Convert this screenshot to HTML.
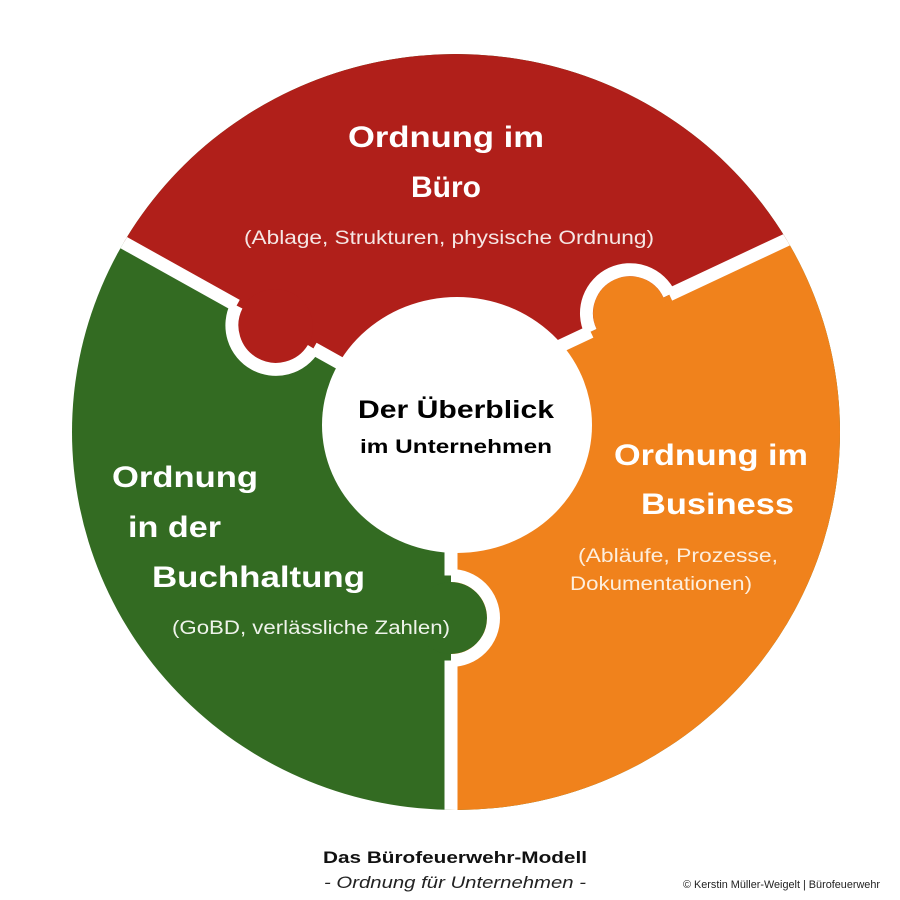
<!DOCTYPE html>
<html><head><meta charset="utf-8"><style>
html,body{margin:0;padding:0;background:#fff;}
svg{display:block;font-family:"Liberation Sans",sans-serif;}
</style></head><body>
<svg width="900" height="900" viewBox="0 0 900 900" xmlns="http://www.w3.org/2000/svg">
<defs><clipPath id="c"><ellipse cx="456" cy="432" rx="384" ry="378"/></clipPath></defs>
<rect width="900" height="900" fill="#fff"/>
<g clip-path="url(#c)">
  <rect width="900" height="900" fill="#336b22"/>
  <polygon points="-10,168 456,428 456,395 910,182 910,-10 -10,-10" fill="#b01f1a"/>
  <polygon points="456,395 910,182 910,910 451,910 451,428" fill="#f0821c"/>
  <circle cx="275" cy="327" r="38" fill="#b01f1a"/>
  <circle cx="630" cy="313.2" r="37" fill="#f0821c"/>
  <circle cx="451" cy="618" r="36" fill="#336b22"/>
  <g stroke="#fff" stroke-width="13" fill="none">
    <line x1="-10" y1="168" x2="236.6" y2="305.6"/>
    <line x1="313.4" y1="348.4" x2="456" y2="428"/>
    <path d="M236.6,305.6 A44,44 0 0 0 313.4,348.4"/>
    <line x1="456" y1="395" x2="590.6" y2="331.7"/>
    <line x1="669.4" y1="294.7" x2="910" y2="182"/>
    <path d="M590.6,331.7 A43.5,43.5 0 0 1 669.4,294.7"/>
    <line x1="451" y1="420" x2="451" y2="575.5"/>
    <line x1="451" y1="660.5" x2="451" y2="910"/>
    <path d="M451,575.5 A42.5,42.5 0 0 1 451,660.5"/>
  </g>
</g>
<ellipse cx="457" cy="425" rx="135" ry="128" fill="#fff"/>

<g fill="#fff" font-weight="bold" font-size="30" text-anchor="middle">
  <text x="446" y="147" textLength="196" lengthAdjust="spacingAndGlyphs">Ordnung im</text>
  <text x="446" y="197">Büro</text>
</g>
<text x="449" y="244" fill="#f5e6e4" font-size="19" text-anchor="middle" textLength="410" lengthAdjust="spacingAndGlyphs">(Ablage, Strukturen, physische Ordnung)</text>

<g fill="#000" font-weight="bold" text-anchor="middle">
  <text x="456" y="418" font-size="25" textLength="196" lengthAdjust="spacingAndGlyphs">Der Überblick</text>
  <text x="456" y="453" font-size="19" textLength="192" lengthAdjust="spacingAndGlyphs">im Unternehmen</text>
</g>

<g fill="#fff" font-weight="bold" font-size="30">
  <text x="112" y="487" textLength="146" lengthAdjust="spacingAndGlyphs">Ordnung</text>
  <text x="128" y="537" textLength="93" lengthAdjust="spacingAndGlyphs">in der</text>
  <text x="152" y="587" textLength="213" lengthAdjust="spacingAndGlyphs">Buchhaltung</text>
</g>
<text x="172" y="634" fill="#eef3ea" font-size="19" textLength="278" lengthAdjust="spacingAndGlyphs">(GoBD, verlässliche Zahlen)</text>

<g fill="#fff" font-weight="bold" font-size="30">
  <text x="614" y="465" textLength="194" lengthAdjust="spacingAndGlyphs">Ordnung im</text>
  <text x="641" y="514" textLength="153" lengthAdjust="spacingAndGlyphs">Business</text>
</g>
<g fill="#fdeedd" font-size="19">
  <text x="578" y="562" textLength="200" lengthAdjust="spacingAndGlyphs">(Abläufe, Prozesse,</text>
  <text x="570" y="590" textLength="182" lengthAdjust="spacingAndGlyphs">Dokumentationen)</text>
</g>

<text x="455" y="863" font-size="17" font-weight="bold" text-anchor="middle" fill="#111" textLength="264" lengthAdjust="spacingAndGlyphs">Das Bürofeuerwehr-Modell</text>
<text x="455" y="888" font-size="17" font-style="italic" text-anchor="middle" fill="#222" textLength="262" lengthAdjust="spacingAndGlyphs">- Ordnung für Unternehmen -</text>
<text x="683" y="888" font-size="11" fill="#222" textLength="197" lengthAdjust="spacingAndGlyphs">© Kerstin Müller-Weigelt | Bürofeuerwehr</text>
</svg>
</body></html>
